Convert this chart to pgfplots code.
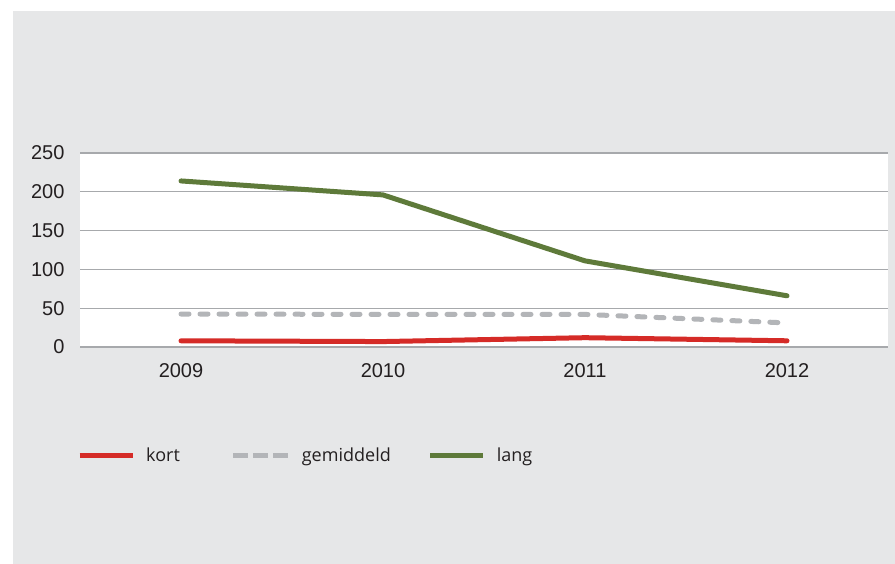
\documentclass[border=0pt]{standalone}
\usepackage{fontspec}
\setmainfont{Liberation Sans}
\newfontfamily\legfont{Open Sans}
\usepackage{pgfplots}
\pgfplotsset{compat=1.18}

\definecolor{panel}{HTML}{E6E7E8}
\definecolor{gridgray}{HTML}{A7A9AC}
\definecolor{kortred}{HTML}{D52B27}
\definecolor{gemgray}{HTML}{B3B5B8}
\definecolor{langgreen}{HTML}{5E7A3A}
\definecolor{txt}{HTML}{231F20}

\pgfplotsset{
  solidleg/.style={legend image code/.code={\draw[##1, line cap=butt] (0pt,0pt) -- (53pt,0pt);}},
  dashleg/.style={legend image code/.code={\draw[##1, line cap=butt, dash pattern=on 15pt off 5pt] (0pt,0pt) -- (55pt,0pt);}},
}

\begin{document}
\begin{tikzpicture}
  \path[use as bounding box] (0pt,0pt) rectangle (895pt,-564pt);
  \fill[white] (0pt,0pt) rectangle (895pt,-564pt);
  \fill[panel] (13pt,-11pt) rectangle (895pt,-564pt);
  \begin{axis}[
      at={(80pt,-347pt)}, anchor=south west,
      scale only axis, width=808pt, height=194pt,
      xmin=-0.5, xmax=3.5, ymin=0, ymax=250,
      xtick={0,1,2,3}, xticklabels={2009,2010,2011,2012},
      ytick={0,50,...,250},
      axis line style={draw=none},
      major tick length=0pt,
      ymajorgrids, grid style={color=gridgray, line width=1.3pt},
      axis background/.style={fill=white},
      /pgf/number format/assume math mode=true,
      tick label style={font=\fontsize{20}{20}\selectfont, text=txt},
      yticklabel style={anchor=east, xshift=-12pt},
      xticklabel style={anchor=north, yshift=-13pt},
      legend columns=3,
      legend style={at={(rel axis cs:0,0)}, anchor=west, shift={(-3pt,-108pt)},
        draw=none, fill=none, inner sep=0pt,
        font=\legfont\fontsize{18}{18}\selectfont, text=txt,
        /tikz/every odd column/.append style={column sep=9pt},
        /tikz/column 2/.style={column sep=49pt},
        /tikz/column 4/.style={column sep=35pt}},
      solidleg,
      every axis plot/.append style={line width=5pt, line cap=round, line join=round},
    ]
    \addplot[kortred] coordinates {(0,8) (1,7) (2,12) (3,8)};
    \addlegendentry{kort}
    \addplot[gemgray, dash pattern=on 8pt off 11pt, dashleg]
      coordinates {(0,42.5) (1,42) (2,42) (3,31)};
    \addlegendentry{gemiddeld}
    \addplot[langgreen] coordinates {(0,214) (1,196) (2,111) (3,66)};
    \addlegendentry{lang}
  \end{axis}
\end{tikzpicture}
\end{document}
